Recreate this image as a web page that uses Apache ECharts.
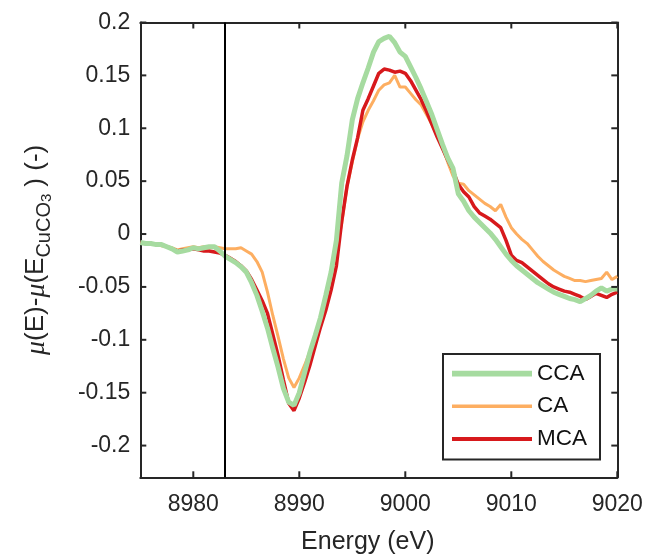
<!DOCTYPE html>
<html>
<head>
<meta charset="utf-8">
<script src="https://cdn.jsdelivr.net/npm/echarts@6/dist/echarts.min.js"></script>
<style>
html,body{margin:0;padding:0;background:#fff;}
#chart{width:645px;height:555px;}
</style>
</head>
<body>
<div id="chart"></div>
<script>
const energy = [
  8975, 8975.5, 8976, 8976.5, 8977, 8977.5, 8978, 8978.5, 8979, 8979.5,
  8980, 8980.5, 8981, 8981.5, 8982, 8982.5, 8983, 8983.5, 8984, 8984.5,
  8985, 8985.5, 8986, 8986.5, 8987, 8987.5, 8988, 8988.5, 8989, 8989.5,
  8990, 8990.5, 8991, 8991.5, 8992, 8992.5, 8993, 8993.5, 8994, 8994.5,
  8995, 8995.5, 8996, 8996.5, 8997, 8997.5, 8998, 8998.5, 8999, 8999.5,
  9000, 9000.5, 9001, 9001.5, 9002, 9002.5, 9003, 9003.5, 9004, 9004.5,
  9005, 9005.5, 9006, 9006.5, 9007, 9007.5, 9008, 9008.5, 9009, 9009.5,
  9010, 9010.5, 9011, 9011.5, 9012, 9012.5, 9013, 9013.5, 9014, 9014.5,
  9015, 9015.5, 9016, 9016.5, 9017, 9017.5, 9018, 9018.5, 9019, 9019.5,
  9020
];
const cca = [
  -0.008, -0.009, -0.009, -0.010, -0.010, -0.012, -0.014, -0.017, -0.016, -0.015,
  -0.013, -0.014, -0.013, -0.012, -0.012, -0.016, -0.021, -0.024, -0.027, -0.031,
  -0.036, -0.046, -0.058, -0.073, -0.089, -0.108, -0.126, -0.146, -0.159, -0.162,
  -0.150, -0.131, -0.112, -0.096, -0.079, -0.058, -0.036, -0.006, 0.048, 0.074,
  0.108, 0.128, 0.143, 0.157, 0.172, 0.182, 0.185, 0.187, 0.181, 0.172,
  0.168, 0.158, 0.148, 0.137, 0.125, 0.113, 0.099, 0.085, 0.072, 0.062,
  0.038, 0.031, 0.022, 0.016, 0.011, 0.006, 0.001, -0.005, -0.012, -0.019,
  -0.025, -0.030, -0.034, -0.038, -0.042, -0.046, -0.049, -0.052, -0.055, -0.057,
  -0.059, -0.061, -0.062, -0.064, -0.061, -0.058, -0.054, -0.051, -0.054, -0.052,
  -0.052
];
const ca = [
  -0.009, -0.009, -0.010, -0.010, -0.011, -0.012, -0.013, -0.015, -0.014, -0.013,
  -0.012, -0.013, -0.012, -0.012, -0.012, -0.013, -0.014, -0.014, -0.014, -0.013,
  -0.016, -0.019, -0.026, -0.036, -0.055, -0.077, -0.097, -0.118, -0.136, -0.145,
  -0.136, -0.124, -0.111, -0.097, -0.081, -0.062, -0.040, -0.015, 0.010, 0.045,
  0.068, 0.090, 0.106, 0.117, 0.126, 0.136, 0.141, 0.143, 0.150, 0.139,
  0.139, 0.133, 0.127, 0.122, 0.113, 0.104, 0.093, 0.082, 0.068, 0.055,
  0.048, 0.047, 0.041, 0.037, 0.033, 0.029, 0.026, 0.022, 0.028, 0.016,
  0.006, 0.000, -0.005, -0.009, -0.015, -0.021, -0.026, -0.030, -0.034, -0.037,
  -0.040, -0.042, -0.044, -0.044, -0.045, -0.044, -0.043, -0.042, -0.036, -0.043,
  -0.040
];
const mca = [
  -0.008, -0.009, -0.009, -0.010, -0.010, -0.012, -0.014, -0.016, -0.015, -0.015,
  -0.014, -0.015, -0.016, -0.016, -0.017, -0.018, -0.020, -0.023, -0.026, -0.030,
  -0.035, -0.043, -0.053, -0.063, -0.075, -0.095, -0.115, -0.138, -0.160, -0.167,
  -0.155, -0.140, -0.124, -0.106, -0.088, -0.072, -0.053, -0.030, 0.012, 0.045,
  0.070, 0.091, 0.117, 0.128, 0.140, 0.152, 0.156, 0.155, 0.153, 0.154,
  0.152, 0.145, 0.136, 0.127, 0.116, 0.104, 0.092, 0.081, 0.070, 0.060,
  0.047, 0.040, 0.035, 0.026, 0.020, 0.017, 0.014, 0.010, 0.006, -0.006,
  -0.020, -0.025, -0.027, -0.031, -0.035, -0.039, -0.043, -0.047, -0.050, -0.052,
  -0.054, -0.055, -0.057, -0.059, -0.062, -0.059, -0.056, -0.058, -0.060, -0.057,
  -0.055
];
const xTicks = [8980, 8990, 9000, 9010, 9020];
const yTicks = [-0.2, -0.15, -0.1, -0.05, 0, 0.05, 0.1, 0.15, 0.2];
const xRange = [8975, 9020];
const yRange = [-0.23, 0.2];
const edgeEnergy = 8983;
const legendNames = ['CCA', 'CA', 'MCA'];

const pair = (ys) => energy.map((e, i) => [e, ys[i]]);
const axisColor = '#262626';
const fontSans = '"Liberation Sans", Arial, Helvetica, sans-serif';
const TICK_LEN = 6;
const colors = {CCA: '#a6dba0', CA: '#fdae61', MCA: '#d7191c'};
const widths = {CCA: 5, CA: 3, MCA: 3.5};

const chart = echarts.init(document.getElementById('chart'), null, {renderer: 'canvas'});

const baseX = {
  type: 'value', min: xRange[0], max: xRange[1],
  axisLine: {show: true, onZero: false, lineStyle: {color: axisColor, width: 2}},
  axisTick: {show: false},
  splitLine: {show: false}
};
const baseY = {
  type: 'value', min: yRange[0], max: yRange[1],
  axisLine: {show: true, onZero: false, lineStyle: {color: axisColor, width: 2}},
  axisTick: {show: false},
  splitLine: {show: false}
};

chart.setOption({
  animation: false,
  backgroundColor: '#fff',
  grid: {left: 140.3, right: 27.7, top: 22.5, bottom: 77.7, containLabel: false, outerBoundsMode: 'none'},
  legend: {
    data: legendNames.map(n => ({name: n, icon: 'path://M0,0H80V' + (widths[n] * 1.15) + 'H0Z'})),
    orient: 'vertical',
    left: 443, top: 354,
    itemWidth: 80, itemHeight: 22, itemGap: 9.7,
    symbolKeepAspect: true,
    padding: [8, 13, 9, 9],
    borderColor: axisColor, borderWidth: 2, backgroundColor: '#fff',
    textStyle: {fontFamily: fontSans, fontSize: 22.5, color: '#111', lineHeight: 22},
    selectedMode: false
  },
  xAxis: [
    Object.assign({}, baseX, {
      position: 'bottom',
      axisLabel: {show: true, margin: 16, customValues: xTicks, fontFamily: fontSans, fontSize: 23, color: axisColor,
        formatter: (v) => String(v)},
      name: 'Energy (eV)', nameLocation: 'middle', nameGap: 52,
      nameTextStyle: {fontFamily: fontSans, fontSize: 25, color: axisColor, padding: [0, 22, 0, 0]}
    }),
    Object.assign({}, baseX, {position: 'top', axisLabel: {show: false}})
  ],
  yAxis: [
    Object.assign({}, baseY, {
      position: 'left',
      axisLabel: {show: true, margin: 10, customValues: yTicks, fontFamily: fontSans, fontSize: 23, color: axisColor,
        formatter: (v) => String(Math.round(v * 100) / 100)},
      name: '{i|μ}(E)-{i|μ}(E{s|CuCO}{ss|3}{m|) (-)}', nameLocation: 'middle', nameRotate: 90, nameGap: 86,
      nameTextStyle: {
        fontFamily: fontSans, fontSize: 26, color: axisColor, lineHeight: 36,
        rich: {
          i: {fontFamily: '"Liberation Serif", "DejaVu Serif", serif', fontStyle: 'italic', fontSize: 28, color: axisColor, lineHeight: 36},
          s: {fontFamily: fontSans, fontSize: 20, color: axisColor, lineHeight: 20, verticalAlign: 'bottom'},
          ss: {fontFamily: fontSans, fontSize: 15, color: axisColor, lineHeight: 6, verticalAlign: 'bottom', padding: [0, 7, 0, 0]},
          m: {fontFamily: fontSans, fontSize: 26, color: axisColor, lineHeight: 36}
        }
      }
    }),
    Object.assign({}, baseY, {position: 'right', axisLabel: {show: false}})
  ],
  series: [
    {
      name: 'CA', type: 'line', data: pair(ca), showSymbol: false, symbol: 'none',
      lineStyle: {color: colors.CA, width: widths.CA}, itemStyle: {color: colors.CA}, z: 2,
      markLine: {
        silent: true, symbol: 'none', label: {show: false},
        lineStyle: {color: '#000', width: 2, type: 'solid'},
        data: [{xAxis: edgeEnergy}]
      }
    },
    {
      name: 'MCA', type: 'line', data: pair(mca), showSymbol: false, symbol: 'none',
      lineStyle: {color: colors.MCA, width: widths.MCA}, itemStyle: {color: colors.MCA}, z: 3
    },
    {
      name: 'CCA', type: 'line', data: pair(cca), showSymbol: false, symbol: 'none',
      lineStyle: {color: colors.CCA, width: widths.CCA}, itemStyle: {color: colors.CCA}, z: 4
    }
  ]
});

// inward tick marks on all four sides, positioned through the chart's own scales
const tickElements = [];
const tickStyle = {stroke: axisColor, lineWidth: 2};
xTicks.forEach(v => {
  const b = chart.convertToPixel({gridIndex: 0}, [v, yRange[0]]);
  const t = chart.convertToPixel({gridIndex: 0}, [v, yRange[1]]);
  tickElements.push({type: 'line', z: 100, silent: true, shape: {x1: b[0], y1: b[1], x2: b[0], y2: b[1] - TICK_LEN}, style: tickStyle});
  tickElements.push({type: 'line', z: 100, silent: true, shape: {x1: t[0], y1: t[1], x2: t[0], y2: t[1] + TICK_LEN}, style: tickStyle});
});
yTicks.forEach(v => {
  const l = chart.convertToPixel({gridIndex: 0}, [xRange[0], v]);
  const r = chart.convertToPixel({gridIndex: 0}, [xRange[1], v]);
  tickElements.push({type: 'line', z: 100, silent: true, shape: {x1: l[0], y1: l[1], x2: l[0] + TICK_LEN, y2: l[1]}, style: tickStyle});
  tickElements.push({type: 'line', z: 100, silent: true, shape: {x1: r[0], y1: r[1], x2: r[0] - TICK_LEN, y2: r[1]}, style: tickStyle});
});
chart.setOption({graphic: {elements: tickElements}});
</script>
</body>
</html>
